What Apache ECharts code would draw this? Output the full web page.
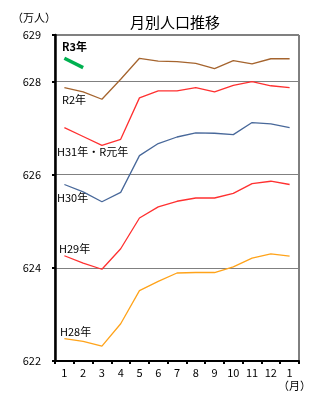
<!DOCTYPE html>
<html>
<head>
<meta charset="utf-8">
<script src="https://cdn.jsdelivr.net/npm/echarts@6/dist/echarts.min.js"></script>
<style>
  html, body { margin: 0; padding: 0; background: #fff; }
  #chart { width: 325px; height: 409px; }
</style>
</head>
<body>
<div id="chart"></div>
<script>
// Months on the category axis (January through the following January)
const months = ['1', '2', '3', '4', '5', '6', '7', '8', '9', '10', '11', '12', '1'];

// Monthly population, in units of 10,000 people
const h28 = [622.48, 622.42, 622.32, 622.80, 623.51, 623.71, 623.89, 623.90, 623.90, 624.02, 624.21, 624.30, 624.25];
const h29 = [624.26, 624.10, 623.97, 624.41, 625.07, 625.31, 625.43, 625.50, 625.50, 625.60, 625.81, 625.86, 625.79];
const h30 = [625.79, 625.63, 625.42, 625.62, 626.41, 626.67, 626.81, 626.90, 626.89, 626.86, 627.12, 627.09, 627.01];
const h31 = [627.01, 626.82, 626.63, 626.76, 627.65, 627.80, 627.80, 627.87, 627.78, 627.92, 628.00, 627.91, 627.87];
const r2  = [627.87, 627.78, 627.62, 628.05, 628.50, 628.44, 628.43, 628.39, 628.28, 628.45, 628.38, 628.49, 628.49];
const r3  = [628.50, 628.30];

// Y-axis range
const yMin = 622, yMax = 629, yStep = 2;

const font = '"Noto Sans CJK JP", "Noto Sans", sans-serif';

function line(name, data, color, width) {
  return {
    name: name,
    type: 'line',
    data: data,
    symbol: 'none',
    lineStyle: { color: color, width: width || 1.3 },
    animation: false,
    z: 3
  };
}

const chart = echarts.init(document.getElementById('chart'), null, { renderer: 'canvas' });

chart.setOption({
  backgroundColor: '#ffffff',
  animation: false,
  title: {
    text: '月別人口推移',
    left: 170,
    top: 10,
    textAlign: 'center',
    textStyle: { fontFamily: font, fontSize: 15, fontWeight: 'normal', color: '#000' }
  },
  grid: {
    left: 55, right: 26, top: 35, bottom: 48,
    show: true, borderColor: '#000', borderWidth: 1, backgroundColor: 'transparent'
  },
  xAxis: {
    type: 'category',
    data: months,
    boundaryGap: true,
    axisLine: { lineStyle: { color: '#000', width: 2 } },
    axisTick: { show: true, length: 3, lineStyle: { color: '#000', width: 2 } },
    axisLabel: { fontFamily: font, fontSize: 11, color: '#000', margin: 6, interval: 0 },
    splitLine: { show: false }
  },
  yAxis: {
    type: 'value',
    min: yMin, max: yMax, interval: yStep,
    axisLine: { show: true, lineStyle: { color: '#000', width: 2.5 } },
    axisTick: { show: true, length: 3, lineStyle: { color: '#000', width: 2 } },
    axisLabel: { fontFamily: font, fontSize: 11, color: '#000', margin: 14 },
    splitLine: { show: true, lineStyle: { color: '#808080', width: 1 } }
  },
  graphic: [
    { type: 'text', left: 12, top: 12, style: { text: '（万人）', font: '11px ' + font, fill: '#000' } },
    { type: 'text', left: 278, top: 380, style: { text: '（月）', font: '11px ' + font, fill: '#000' } },
    { type: 'text', left: 62, top: 41, style: { text: 'R3年', font: 'bold 11px ' + font, fill: '#000' } },
    { type: 'text', left: 62, top: 94, style: { text: 'R2年', font: '11px ' + font, fill: '#000' } },
    { type: 'text', left: 57, top: 146, style: { text: 'H31年・R元年', font: '11px ' + font, fill: '#000' } },
    { type: 'text', left: 57, top: 192, style: { text: 'H30年', font: '11px ' + font, fill: '#000' } },
    { type: 'text', left: 59, top: 243, style: { text: 'H29年', font: '11px ' + font, fill: '#000' } },
    { type: 'text', left: 60, top: 326, style: { text: 'H28年', font: '11px ' + font, fill: '#000' } }
  ],
  series: [
    line('H28年', h28, '#FFA31A'),
    line('H29年', h29, '#FF3030'),
    line('H30年', h30, '#48689A'),
    line('H31年・R元年', h31, '#FF3030'),
    line('R2年', r2, '#A5642E'),
    line('R3年', r3, '#00B050', 3.5)
  ]
});
</script>
</body>
</html>
